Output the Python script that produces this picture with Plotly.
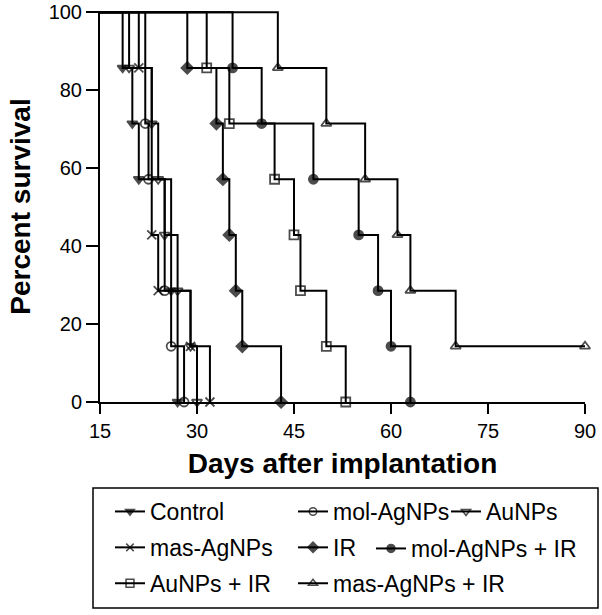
import plotly.graph_objects as go

# ---------------- data ----------------
groups = ["Control", "mol-AgNPs", "AuNPs", "mas-AgNPs", "IR",
          "mol-AgNPs + IR", "AuNPs + IR", "mas-AgNPs + IR"]

control_days = [18.5, 20, 21, 26, 27]
control_surv = [85.71, 71.43, 57.14, 28.57, 0]

mol_days = [22, 22.5, 25, 26, 28]
mol_surv = [71.43, 57.14, 28.57, 14.29, 0]

au_days = [19.5, 23, 24, 25, 27, 29, 30]
au_surv = [85.71, 71.43, 57.14, 42.86, 28.57, 14.29, 0]

mas_days = [21, 23, 24, 29, 32]
mas_surv = [85.71, 42.86, 28.57, 14.29, 0]

ir_days = [28.5, 33, 34, 35, 36, 37, 43]
ir_surv = [85.71, 71.43, 57.14, 42.86, 28.57, 14.29, 0]

molir_days = [35.5, 40, 48, 55, 58, 60, 63]
molir_surv = [85.71, 71.43, 57.14, 42.86, 28.57, 14.29, 0]

auir_days = [31.5, 35, 42, 45, 46, 50, 53]
auir_surv = [85.71, 71.43, 57.14, 42.86, 28.57, 14.29, 0]

masir_days = [42.5, 50, 56, 61, 63, 70, 90]
masir_surv = [85.71, 71.43, 57.14, 42.86, 28.57, 14.29, 14.29]

x_ticks = [15, 30, 45, 60, 75, 90]
y_ticks = [0, 20, 40, 60, 80, 100]

# ---------------- styling ----------------
series = [
    (control_days, control_surv, "triangle-down", "legend"),
    (mol_days, mol_surv, "circle-open", "legend2"),
    (au_days, au_surv, "triangle-down-open", "legend3"),
    (mas_days, mas_surv, "x-thin-open", "legend"),
    (ir_days, ir_surv, "diamond", "legend2"),
    (molir_days, molir_surv, "circle", "legend4"),
    (auir_days, auir_surv, "square-open", "legend"),
    (masir_days, masir_surv, "triangle-up-open", "legend2"),
]

FONT = "Arial, Liberation Sans, sans-serif"
fig = go.Figure()
for name, (d, s, sym, leg) in zip(groups, series):
    xs = [x_ticks[0]] + d
    ys = [100] + s
    n = len(d)
    fig.add_trace(go.Scatter(
        x=xs, y=ys, name=name, mode="lines+markers",
        line=dict(shape="hv", color="black", width=2),
        marker=dict(symbol=sym, color="black", size=[0] + [9] * n,
                    line=dict(color="black", width=[0] + [1.8] * n)),
        cliponaxis=False, legend=leg, legendgroup=name,
    ))

W, H = 602, 615
L, R, T, B = 100, 17, 11, 213
pw, ph = W - L - R, H - T - B
def px_x(p):
    return (p - L) / pw
def px_y(p):
    return (H - B - p) / ph

legfont = dict(family=FONT, size=23, color="black")
leg_common = dict(font=legfont, bgcolor="rgba(0,0,0,0)", borderwidth=0,
                  orientation="v", xanchor="left", yanchor="top",
                  tracegroupgap=3, itemclick=False)

fig.update_layout(
    width=W, height=H,
    margin=dict(l=L, r=R, t=T, b=B, autoexpand=False),
    paper_bgcolor="white", plot_bgcolor="white",
    font=dict(family=FONT, color="black", size=20),
    xaxis=dict(range=[15, 90], tickvals=x_ticks, showline=True, linecolor="black",
               linewidth=2, ticks="outside", ticklen=10, tickwidth=2, tickcolor="black",
               showgrid=False, zeroline=False, tickfont=dict(size=20), automargin=False,
               title=dict(text="<b>Days after implantation</b>", font=dict(size=28), standoff=12)),
    yaxis=dict(range=[0, 100.3], tickvals=y_ticks, showline=True, linecolor="black",
               linewidth=2, ticks="outside", ticklen=12, tickwidth=2, tickcolor="black",
               showgrid=False, zeroline=False, tickfont=dict(size=20), automargin=False,
               title=dict(text="<b>Percent survival</b>", font=dict(size=28), standoff=10)),
    legend=dict(x=px_x(110), y=px_y(490), **leg_common),
    legend2=dict(x=px_x(293), y=px_y(490), **leg_common),
    legend3=dict(x=px_x(446), y=px_y(490), **leg_common),
    legend4=dict(x=px_x(371), y=px_y(527), **leg_common),
    shapes=[dict(type="rect", xref="paper", yref="paper",
                 x0=px_x(93), x1=px_x(598), y0=px_y(488), y1=px_y(608),
                 line=dict(color="black", width=1.5))],
)

fig.write_html("out.html", config={"displayModeBar": False},
               post_script="document.body.style.margin='0px';document.body.style.overflow='hidden';")
